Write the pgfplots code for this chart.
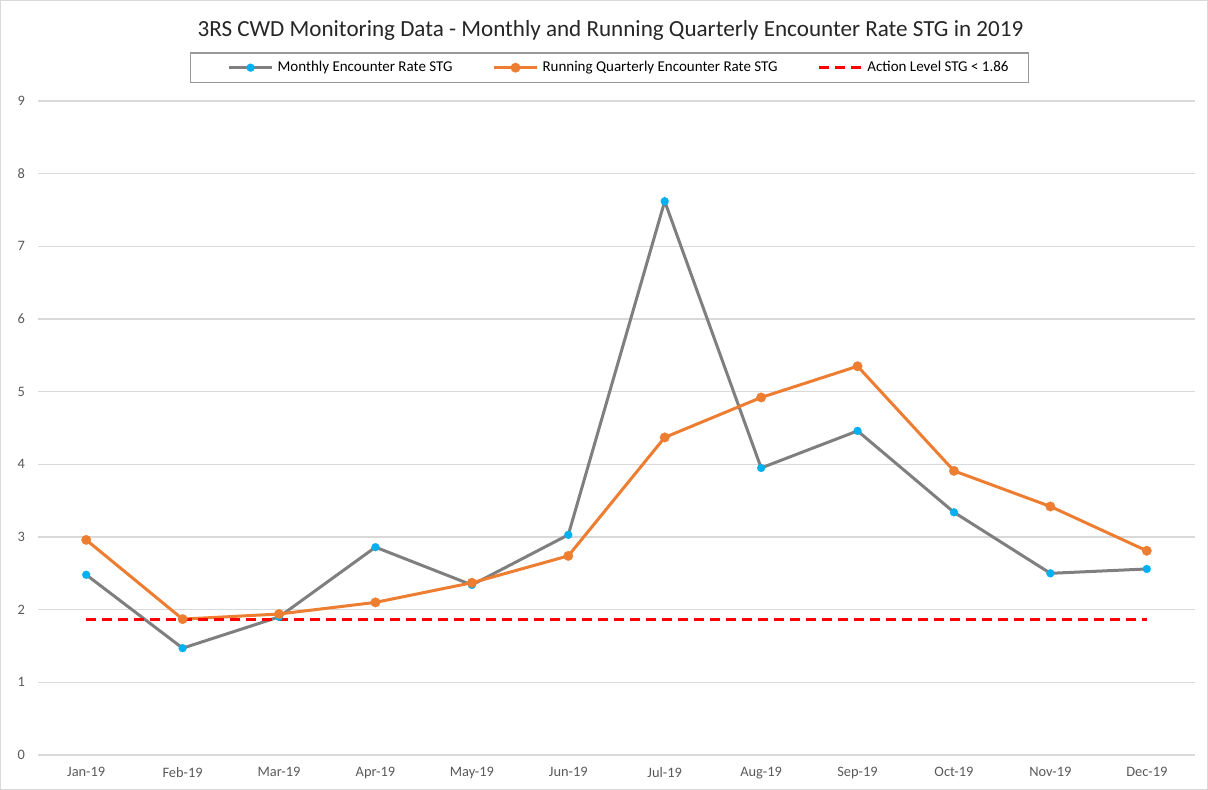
\documentclass[border=0pt]{standalone}
\usepackage{pgfplots}
\pgfplotsset{compat=1.18}
\usepackage{fontspec}
\setmainfont{Carlito}

\definecolor{mgray}{HTML}{7F7F7F}
\definecolor{mblue}{HTML}{00B0F0}
\definecolor{morange}{HTML}{ED7D31}
\definecolor{gridc}{HTML}{D9D9D9}
\definecolor{tickc}{HTML}{595959}

\begin{document}
\begin{tikzpicture}
\begin{axis}[
    scale only axis,
    width=578.5pt, height=327pt,
    xmin=-0.5, xmax=11.5,
    ymin=0, ymax=9,
    ytick={0,...,9},
    xtick={0,...,11},
    xticklabels={Jan-19,Feb-19,Mar-19,Apr-19,May-19,Jun-19,Jul-19,Aug-19,Sep-19,Oct-19,Nov-19,Dec-19},
    ymajorgrids,
    grid style={gridc, line width=0.75pt},
    axis line style={draw=none},
    major tick length=0pt,
    tick label style={font=\fontsize{7.2}{8.5}\selectfont, text=tickc},
    /pgf/number format/assume math mode=true,
    yticklabel style={xshift=-3pt},
    xticklabel style={yshift=-2.5pt},
    clip=false,
    legend columns=3,
    legend style={
        at={(0.494,1)}, anchor=south, yshift=9pt,
        draw=gridc!70!black, line width=0.6pt,
        font=\fontsize{7.5}{9}\selectfont, text=black,
        /tikz/every even column/.append style={column sep=7.5pt},
        inner xsep=8pt, inner ysep=2pt,
    },
    legend image code/.code={
        \path (-10.5pt,0pt);
        \draw[#1, mark repeat=2, mark phase=2] plot coordinates {(0pt,0pt) (10.75pt,0pt) (21.5pt,0pt)};
    },
]
% Monthly Encounter Rate STG
\addplot[mgray, line width=1.5pt, mark=*, mark size=2pt,
    mark options={line width=0.1pt, draw=mblue, fill=mblue}]
    coordinates {(0,2.48) (1,1.47) (2,1.90) (3,2.86) (4,2.34) (5,3.03)
                 (6,7.62) (7,3.95) (8,4.46) (9,3.34) (10,2.50) (11,2.56)};
\addlegendentry{Monthly Encounter Rate STG}
% Running quarterly
\addplot[morange, line width=1.5pt, mark=*, mark size=2.4pt,
    mark options={line width=0.1pt, draw=morange, fill=morange}]
    coordinates {(0,2.96) (1,1.87) (2,1.94) (3,2.10) (4,2.37) (5,2.74)
                 (6,4.37) (7,4.92) (8,5.35) (9,3.91) (10,3.42) (11,2.81)};
\addlegendentry{Running Quarterly Encounter Rate STG}
% action level
\addplot[red, line width=1.4pt, dash pattern=on 5pt off 3pt]
    coordinates {(0,1.86) (11,1.86)};
\addlegendentry{Action Level STG < 1.86}

\node[font=\fontsize{11.55}{14}\selectfont, text=black!85]
    at ([yshift=35.5pt]rel axis cs:0.4948,1) {3RS CWD Monitoring Data - Monthly and Running Quarterly Encounter Rate STG in 2019};
\draw[gridc, line width=0.6pt]
    ([xshift=-18.7pt,yshift=-17.2pt]rel axis cs:0,0) rectangle ([xshift=6.2pt,yshift=50.2pt]rel axis cs:1,1);
\end{axis}
\end{tikzpicture}
\end{document}
